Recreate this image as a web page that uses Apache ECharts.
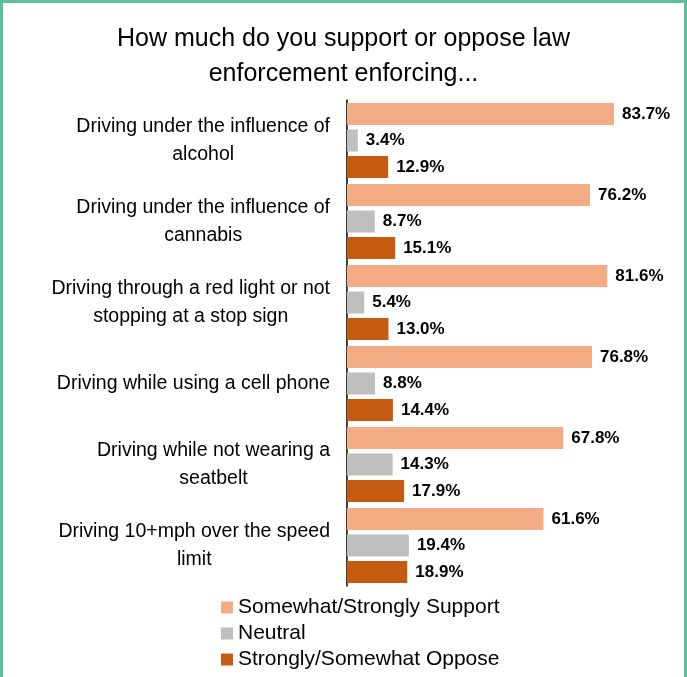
<!DOCTYPE html>
<html>
<head>
<meta charset="utf-8">
<script src="https://cdn.jsdelivr.net/npm/echarts@6/dist/echarts.min.js"></script>
<style>
    html, body { margin: 0; padding: 0; background: #fff; }
    #wrap { position: relative; width: 687px; height: 677px; }
    #main { position: absolute; left: 0; top: 0; width: 687px; height: 677px; }
    #frame { position: absolute; left: 0; top: 0; width: 687px; height: 677px; box-sizing: border-box;
             border: 3px solid #5FBF98; border-bottom: none; pointer-events: none; }
</style>
</head>
<body>
<div id="wrap">
    <div id="main"></div>
    <div id="frame"></div>
</div>
<script>
    var categories = [
        'Driving under the influence of\nalcohol',
        'Driving under the influence of\ncannabis',
        'Driving through a red light or not\nstopping at a stop sign',
        'Driving while using a cell phone',
        'Driving while not wearing a\nseatbelt',
        'Driving 10+mph over the speed\nlimit'
    ];
    var supportVals = [83.7, 76.2, 81.6, 76.8, 67.8, 61.6];
    var neutralVals = [3.4, 8.7, 5.4, 8.8, 14.3, 19.4];
    var opposeVals = [12.9, 15.1, 13.0, 14.4, 17.9, 18.9];
    var seriesNames = ['Somewhat/Strongly Support', 'Neutral', 'Strongly/Somewhat Oppose'];
    var seriesColors = ['#F4AC84', '#BFBFBF', '#C55A11'];

    var font = 'Liberation Sans';
    var chart = echarts.init(document.getElementById('main'));

    function makeSeries(idx, data) {
        return {
            name: seriesNames[idx],
            type: 'bar',
            data: data,
            barWidth: 22,
            barGap: '20%',
            itemStyle: { color: seriesColors[idx] },
            label: {
                show: true,
                position: 'right',
                distance: 8,
                color: '#000',
                fontWeight: 'bold',
                fontSize: 17,
                fontFamily: font,
                formatter: function (p) { return p.value.toFixed(1) + '%'; }
            }
        };
    }

    var option = {
        animation: false,
        title: {
            text: 'How much do you support or oppose law\nenforcement enforcing...',
            left: 'center',
            top: 17,
            textStyle: {
                fontFamily: font,
                fontWeight: 'normal',
                fontSize: 25,
                lineHeight: 35,
                color: '#000'
            }
        },
        legend: {
            orient: 'vertical',
            left: 216,
            top: 592,
            itemWidth: 12,
            itemHeight: 12,
            itemGap: 5,
            icon: 'rect',
            textStyle: { fontFamily: font, fontSize: 21, color: '#000', lineHeight: 21 },
            data: seriesNames
        },
        grid: { left: 347, right: 21, top: 100, bottom: 91 },
        xAxis: {
            type: 'value',
            min: 0,
            max: 100,
            show: false
        },
        yAxis: {
            type: 'category',
            inverse: true,
            data: categories,
            axisLine: { lineStyle: { color: '#000', width: 1.5 } },
            axisTick: { show: false },
            axisLabel: {
                margin: 17,
                align: 'right',
                color: '#000',
                fontFamily: font,
                fontSize: 19.5,
                lineHeight: 28,
                formatter: function (v) {
                    return v.split('\n').map(function (s) { return '{c|' + s + '}'; }).join('\n');
                },
                rich: {
                    c: { align: 'center', fontFamily: font, fontSize: 19.5, lineHeight: 28, color: '#000' }
                }
            }
        },
        series: [
            makeSeries(0, supportVals),
            makeSeries(1, neutralVals),
            makeSeries(2, opposeVals)
        ]
    };

    chart.setOption(option);
    window.addEventListener('resize', function () {
        chart.resize();
    });
</script>
</body>
</html>
